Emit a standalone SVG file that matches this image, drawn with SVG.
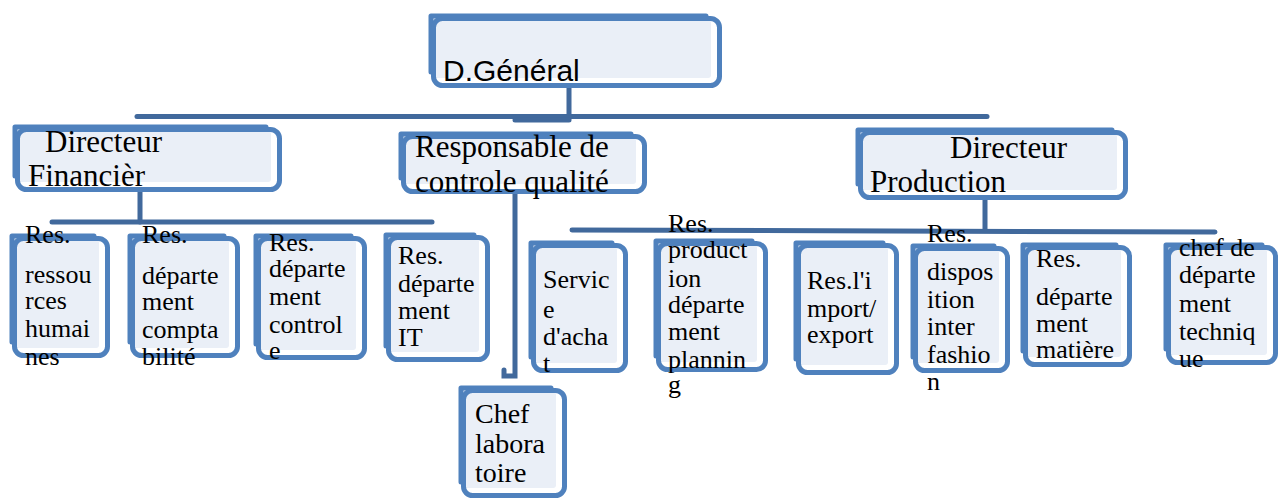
<svg xmlns="http://www.w3.org/2000/svg" width="1284" height="500" viewBox="0 0 1284 500">
<style>
.f{fill:#eaeff7;stroke:none}
.b{fill:none;stroke:#4f81bd;stroke-width:5;stroke-linejoin:round;stroke-linecap:round}
.c{fill:none;stroke:#41699c;stroke-width:5;stroke-linecap:round}
text{fill:#000}
.big{font-family:"Liberation Serif","Times New Roman",serif;font-size:31px}
.sm{font-family:"Liberation Serif","Times New Roman",serif;font-size:26px}
.md{font-family:"Liberation Serif","Times New Roman",serif;font-size:28px}
.sans{font-family:"Liberation Sans",Arial,sans-serif;font-size:30px}
</style>
<rect width="1284" height="500" fill="#fff"/>
<g id="connectors">
<path class="c" d="M569,88 V118"/>
<path class="c" d="M137,116.5 H987"/>
<path class="c" d="M515,120 H569"/>
<path class="c" d="M140,192 V222"/>
<path class="c" d="M52,222 H432"/>
<path class="c" d="M515,194 V376 H504 V370"/>
<path class="c" d="M985,200 V230"/>
<path class="c" d="M572,230 L1215,232"/>
</g>
<g id="dg">
<rect class="f" x="431" y="16" width="280" height="62" rx="3"/>
<path class="b" d="M431,72 V16 H706"/>
<rect class="b" x="433.5" y="18.5" width="286" height="67" rx="9"/>
<text class="sans" x="443" y="81">D.Général</text>
</g>
<g id="dir-fin">
<rect class="f" x="15" y="127" width="256" height="55" rx="3"/>
<path class="b" d="M15,176 V127 H266"/>
<rect class="b" x="17.5" y="129.5" width="262" height="60" rx="9"/>
<text class="big" x="45" y="152">Directeur</text>
<text class="big" x="28" y="186">Financièr</text>
</g>
<g id="resp-qualite">
<rect class="f" x="401" y="134" width="235" height="50" rx="3"/>
<path class="b" d="M401,178 V134 H631"/>
<rect class="b" x="403.5" y="136.5" width="241" height="55" rx="9"/>
<text class="big" x="415" y="157">Responsable de</text>
<text class="big" x="415" y="192">controle qualité</text>
</g>
<g id="dir-prod">
<rect class="f" x="858" y="130" width="259" height="60" rx="3"/>
<path class="b" d="M858,184 V130 H1112"/>
<rect class="b" x="860.5" y="132.5" width="265" height="65" rx="9"/>
<text class="big" x="950" y="158">Directeur</text>
<text class="big" x="870" y="192">Production</text>
</g>
<g id="res-rh">
<rect class="f" x="12" y="236" width="87" height="112" rx="3"/>
<path class="b" d="M12,342 V236 H94"/>
<rect class="b" x="14.5" y="238.5" width="93" height="117" rx="9"/>
<text class="sm" x="25" y="243">Res.</text>
<text class="sm" x="25" y="283">ressou</text>
<text class="sm" x="25" y="309">rces</text>
<text class="sm" x="25" y="337">humai</text>
<text class="sm" x="25" y="365">nes</text>
</g>
<g id="res-compta">
<rect class="f" x="130" y="236" width="99" height="112" rx="3"/>
<path class="b" d="M130,342 V236 H224"/>
<rect class="b" x="132.5" y="238.5" width="105" height="117" rx="9"/>
<text class="sm" x="142" y="243">Res.</text>
<text class="sm" x="142" y="284">départe</text>
<text class="sm" x="142" y="310">ment</text>
<text class="sm" x="142" y="338">compta</text>
<text class="sm" x="142" y="365">bilité</text>
</g>
<g id="res-controle">
<rect class="f" x="256" y="236" width="100" height="114" rx="3"/>
<path class="b" d="M256,344 V236 H351"/>
<rect class="b" x="258.5" y="238.5" width="106" height="119" rx="9"/>
<text class="sm" x="269" y="251">Res.</text>
<text class="sm" x="269" y="277">départe</text>
<text class="sm" x="269" y="305">ment</text>
<text class="sm" x="269" y="333">control</text>
<text class="sm" x="269" y="359">e</text>
</g>
<g id="res-it">
<rect class="f" x="386" y="235" width="93" height="117" rx="3"/>
<path class="b" d="M386,346 V235 H474"/>
<rect class="b" x="388.5" y="237.5" width="99" height="122" rx="9"/>
<text class="sm" x="398" y="264">Res.</text>
<text class="sm" x="398" y="292">départe</text>
<text class="sm" x="398" y="319">ment</text>
<text class="sm" x="398" y="346">IT</text>
</g>
<g id="chef-labo">
<rect class="f" x="461" y="388" width="95" height="100" rx="3"/>
<path class="b" d="M461,482 V388 H551"/>
<rect class="b" x="463.5" y="390.5" width="101" height="105" rx="9"/>
<text class="md" x="475" y="423">Chef</text>
<text class="md" x="475" y="453">labora</text>
<text class="md" x="475" y="482">toire</text>
</g>
<g id="service-achat">
<rect class="f" x="531" y="243" width="86" height="120" rx="3"/>
<path class="b" d="M531,357 V243 H612"/>
<rect class="b" x="533.5" y="245.5" width="92" height="125" rx="9"/>
<text class="sm" x="543" y="288">Servic</text>
<text class="sm" x="543" y="318">e</text>
<text class="sm" x="543" y="345">d'acha</text>
<text class="sm" x="543" y="372">t</text>
</g>
<g id="res-planning">
<rect class="f" x="656" y="241" width="101" height="121" rx="3"/>
<path class="b" d="M656,356 V241 H752"/>
<rect class="b" x="658.5" y="243.5" width="107" height="126" rx="9"/>
<text class="sm" x="668" y="232">Res.</text>
<text class="sm" x="668" y="258">product</text>
<text class="sm" x="668" y="287">ion</text>
<text class="sm" x="668" y="313">départe</text>
<text class="sm" x="668" y="340">ment</text>
<text class="sm" x="668" y="368">plannin</text>
<text class="sm" x="668" y="393">g</text>
</g>
<g id="res-import">
<rect class="f" x="796" y="243" width="92" height="122" rx="3"/>
<path class="b" d="M796,359 V243 H883"/>
<rect class="b" x="798.5" y="245.5" width="98" height="127" rx="9"/>
<text class="sm" x="807" y="289">Res.l'i</text>
<text class="sm" x="807" y="317">mport/</text>
<text class="sm" x="807" y="343">export</text>
</g>
<g id="res-fashion">
<rect class="f" x="913" y="246" width="86" height="117" rx="3"/>
<path class="b" d="M913,357 V246 H994"/>
<rect class="b" x="915.5" y="248.5" width="92" height="122" rx="9"/>
<text class="sm" x="927" y="242">Res.</text>
<text class="sm" x="927" y="280">dispos</text>
<text class="sm" x="927" y="308">ition</text>
<text class="sm" x="927" y="335">inter</text>
<text class="sm" x="927" y="363">fashio</text>
<text class="sm" x="927" y="390">n</text>
</g>
<g id="res-matiere">
<rect class="f" x="1023" y="245" width="98" height="112" rx="3"/>
<path class="b" d="M1023,351 V245 H1116"/>
<rect class="b" x="1025.5" y="247.5" width="104" height="117" rx="9"/>
<text class="sm" x="1036" y="267">Res.</text>
<text class="sm" x="1036" y="305">départe</text>
<text class="sm" x="1036" y="332">ment</text>
<text class="sm" x="1036" y="358">matière</text>
</g>
<g id="chef-technique">
<rect class="f" x="1166" y="245" width="101" height="110" rx="3"/>
<path class="b" d="M1166,349 V245 H1262"/>
<rect class="b" x="1168.5" y="247.5" width="107" height="115" rx="9"/>
<text class="sm" x="1179" y="256">chef de</text>
<text class="sm" x="1179" y="283">départe</text>
<text class="sm" x="1179" y="312">ment</text>
<text class="sm" x="1179" y="340">techniq</text>
<text class="sm" x="1179" y="367">ue</text>
</g>
</svg>
